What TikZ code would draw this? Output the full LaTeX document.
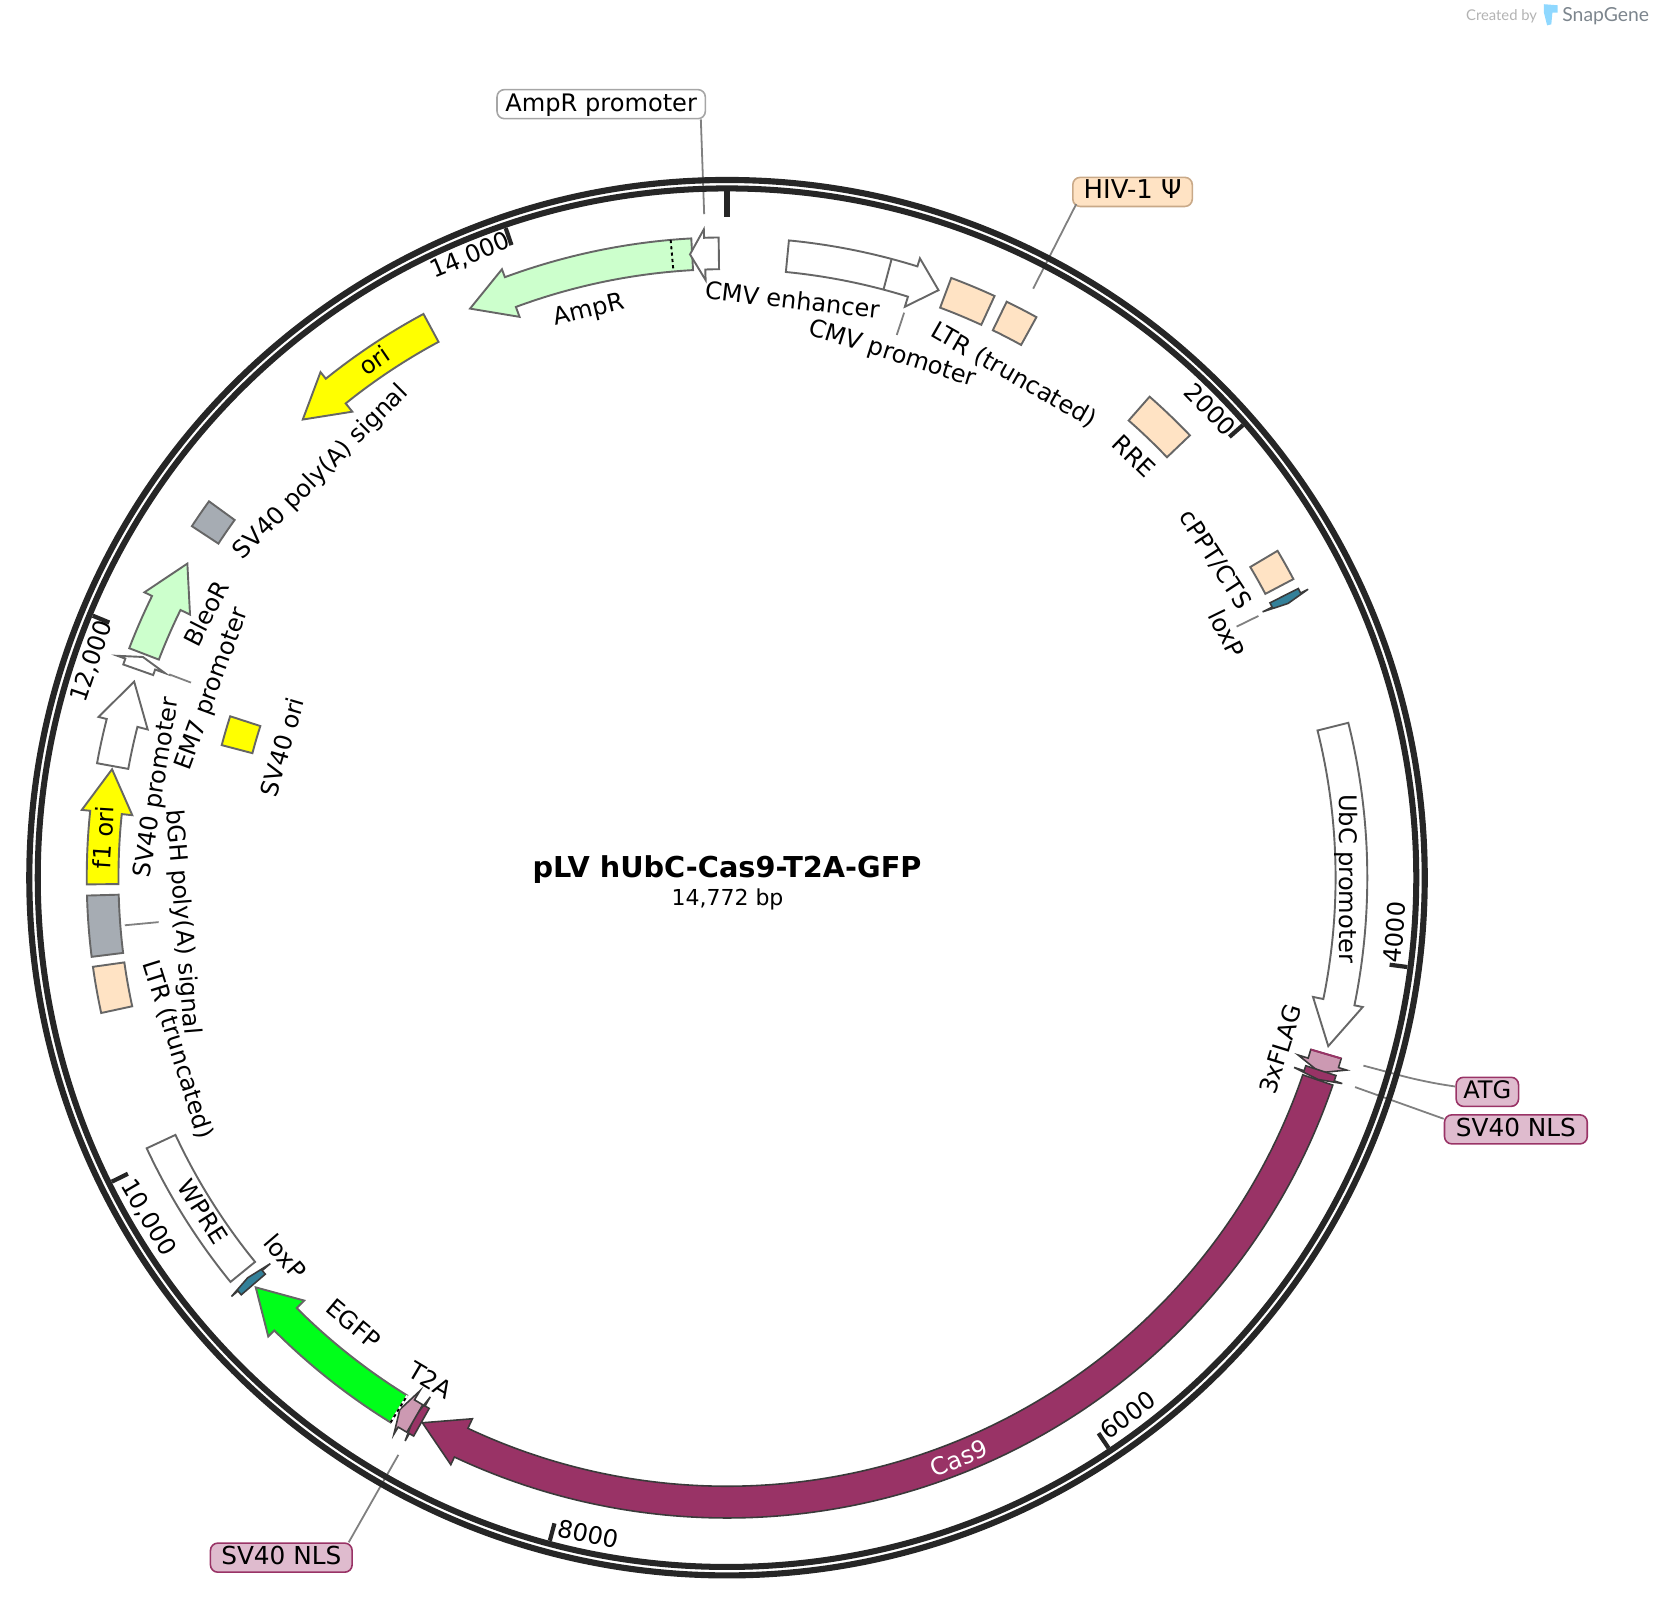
\documentclass[tikz,border=0pt]{standalone}
\usepackage{xcolor}
\usepackage{fontspec}
\setmainfont{DejaVu Sans}
\newfontfamily\logofont{Lato}
\usepackage{tikz}
\usetikzlibrary{calc}

\definecolor{ringgray}{HTML}{262626}
\definecolor{featgray}{HTML}{666666}
\definecolor{darkline}{HTML}{3A3A3A}
\definecolor{pingray}{HTML}{808080}
\definecolor{tanfill}{HTML}{FFE3C4}
\definecolor{tanedge}{HTML}{C9A988}
\definecolor{grayfill}{HTML}{A6ACB3}
\definecolor{greenfill}{HTML}{CCFFCC}
\definecolor{gfpfill}{HTML}{00FF1A}
\definecolor{orifill}{HTML}{FFFF00}
\definecolor{casfill}{HTML}{993366}
\definecolor{flagfill}{HTML}{CC99B2}
\definecolor{pinkfill}{HTML}{DFBBCE}
\definecolor{loxfill}{HTML}{338099}
\definecolor{logoblue}{HTML}{8FD8FF}
\definecolor{logogray}{HTML}{7C858D}

\newcommand{\lblfont}{\fontsize{22.8}{26}\selectfont}
\newcommand{\rOut}{605.5}
\newcommand{\rIn}{575.5}
\newcommand{\rMid}{590.5}
\newcommand{\wOut}{613.5}
\newcommand{\wIn}{565.5}
\newcommand{\cx}{687.5}
\newcommand{\cy}{830}

\tikzset{
  feat/.style={draw=featgray,line width=1.8},
  featdark/.style={draw=darkline,line width=1.5},
  ring/.style={draw=ringgray},
  pinline/.style={draw=pingray,line width=1.7},
  pinbox/.style={rounded corners=7,line width=1.5,inner xsep=6,inner ysep=0,
    minimum height=27.5,text height=17,text depth=4,font=\lblfont,text=black},
  lbl/.style={inner sep=0,text height=17,text depth=5,font=\lblfont},
  dotline/.style={draw=black,line width=1.8,dash pattern=on 3 off 3},
}

\newcommand{\genearrow}[4][feat]{%
  \draw[#1] ({90-#2}:\rOut) arc[start angle={90-#2},end angle={90-#3},radius=\rOut]
    -- ({90-#3}:\wOut) -- ({90-#4}:\rMid) -- ({90-#3}:\wIn) -- ({90-#3}:\rIn)
    arc[start angle={90-#3},end angle={90-#2},radius=\rIn] -- cycle;}
\newcommand{\genebox}[3][feat]{%
  \draw[#1] ({90-#2}:\rOut) arc[start angle={90-#2},end angle={90-#3},radius=\rOut]
    -- ({90-#3}:\rIn) arc[start angle={90-#3},end angle={90-#2},radius=\rIn] -- cycle;}
\newcommand{\cwlabel}[5][black]{%
  \pgfmathsetmacro\labang{atan2(\cy-#4,#3-\cx)}%
  \node[lbl,text=#1,rotate=\labang-90] (#2) at ({#3-\cx},{\cy-#4}) {#5};}
\newcommand{\ccwlabel}[5][black]{%
  \pgfmathsetmacro\labang{atan2(\cy-#4,#3-\cx)}%
  \node[lbl,text=#1,rotate=\labang+90] (#2) at ({#3-\cx},{\cy-#4}) {#5};}

\begin{document}
\begin{tikzpicture}[x=1pt,y=1pt]
  \useasboundingbox (0,0) rectangle (1566,1519);

  \node (title) at (687.5,697) {\fontsize{27.2}{30}\selectfont\bfseries pLV hUbC-Cas9-T2A-GFP};
  \node (length) at (688,668) {\fontsize{20.8}{24}\selectfont 14,772 bp};

  \node[pinbox,draw=pingray!70,fill=white,minimum width=197] (pinampr) at (568.5,1420.5) {AmpR promoter};
  \node[pinbox,draw=tanedge,fill=tanfill,minimum width=113] (pinhiv) at (1071,1337.5) {\fontsize{24.5}{26}\selectfont HIV-1 Ψ\hspace{19pt}};
  \node[pinbox,draw=casfill,fill=pinkfill,minimum width=59] (pinatg) at (1406.5,486.5) {ATG};
  \node[pinbox,draw=casfill,fill=pinkfill,minimum width=135] (pinnls) at (1433.5,451) {\fontsize{23.4}{26}\selectfont SV40 NLS\hspace{10pt}};
  \node[pinbox,draw=casfill,fill=pinkfill,minimum width=134] (pinnlsb) at (266,46) {\fontsize{23.4}{26}\selectfont SV40 NLS\hspace{10pt}};

  \coordinate (amprend) at (665.9,1316.4);
  \coordinate (hivend) at (977,1246);
  \coordinate (atgbend) at (1346,496.2);
  \coordinate (atgend) at (1289.3,511.3);
  \coordinate (nlsend) at (1281.4,491);
  \coordinate (nlsbend) at (376.7,143.2);
  \draw[pinline] ([xshift=-5]pinampr.south east) -- (amprend);
  \draw[pinline] ([xshift=4,yshift=3]pinhiv.south west) -- (hivend);
  \draw[pinline,rounded corners=20] ([yshift=5]pinatg.west) -- (atgbend) -- (atgend);
  \draw[pinline] ([yshift=10]pinnls.west) -- (nlsend);
  \draw[pinline] ([xshift=-4]pinnlsb.north east) -- (nlsbend);
  \draw[pinline] (855,1223.3) -- (848,1202.2);
  \draw[pinline] (1190,936.5) -- (1169.4,926.4);
  \draw[pinline] (160,881.3) -- (180.6,873.5);
  \draw[pinline] (118,644) -- (150,647);

  \begin{scope}[shift={(\cx,1519-\cy)}]
    \draw[ring,line width=5.8] (0,0) circle[radius=659.8];
    \draw[ring,line width=5.7] (0,0) circle[radius=651.8];
    \draw[ring,line width=5.9] (90:649) -- (90:625);
    \foreach \bp in {2000,4000,...,14000}
      \draw[ring,line width=4] ({90-\bp/14772*360}:649) -- ({90-\bp/14772*360}:632);

    \genearrow[feat,fill=greenfill]{356.8}{339.7}{335.7}
    \draw[dotline] ({90-354.95}:\rOut) -- ({90-354.95}:\rIn);
    \genearrow[feat,fill=white]{359.25}{357.95}{356.6}
    \genearrow[feat,fill=white]{5.55}{17.3}{19.8}
    \draw[feat] ({90-14.9}:\rOut) -- ({90-14.9}:\rIn);
    \genebox[feat,fill=tanfill]{20.5}{24.7}
    \genebox[feat,fill=tanfill]{25.9}{28.9}
    \genebox[feat,fill=tanfill]{41.3}{46.3}
    \genebox[feat,fill=tanfill]{59.3}{62.2}
    \genearrow[featdark,fill=loxfill]{63.15}{63.6}{63.95}
    \genearrow[feat,fill=white]{76}{101.5}{105.65}
    \genearrow[featdark,fill=casfill]{108.9}{205.2}{209.2}
    \genearrow[featdark,fill=flagfill]{106.4}{107.25}{108.2}
    \draw[casfill,line width=1.8] ({90-106.4}:\rOut) -- ({90-106.4}:\rIn);
    \genearrow[featdark,fill=casfill]{108}{108.5}{108.85}
    \genearrow[featdark,fill=casfill]{209.3}{209.75}{210.1}
    \genearrow[featdark,fill=flagfill]{210}{210.9}{211.6}
    \genearrow[feat,fill=gfpfill]{211.7}{225}{229}
    \draw[draw=white,line width=1.8] ({90-211.7}:\rOut) -- ({90-211.7}:\rIn);
    \draw[dotline] ({90-211.7}:\rOut) -- ({90-211.7}:\rIn);
    \genearrow[featdark,fill=loxfill]{229.35}{229.8}{230.15}
    \genebox[feat,fill=white]{230.85}{245}
    \genebox[feat,fill=tanfill]{257.8}{262}
    \genebox[feat,fill=grayfill]{262.9}{268.4}
    \genearrow[feat,fill=orifill]{269.4}{276}{280}
    \genearrow[feat,fill=white]{280.3}{284.35}{288.3}
    \genearrow[feat,fill=white]{289.45}{290}{290.7}
    \genearrow[feat,fill=greenfill]{291}{296.1}{300.2}
    \genebox[feat,fill=grayfill]{303.3}{306}
    \genearrow[feat,fill=orifill]{331.7}{321.2}{317.2}
    {\renewcommand{\rOut}{494}\renewcommand{\rIn}{464}
     \genebox[feat,fill=orifill]{284.7}{288}}

    \cwlabel{tickfourteen}{445}{243}{14,000}
    \cwlabel{ticktwo}{1143}{389}{2000}
    \ccwlabel{tickfour}{1321}{882}{4000}
    \ccwlabel{ticksix}{1068}{1340}{6000}
    \ccwlabel{tickeight}{556}{1453}{8000}
    \ccwlabel{tickten}{139}{1152}{10,000}
    \cwlabel{ticktwelve}{88}{626}{12,000}

    \cwlabel{lblampr}{557}{294}{AmpR}
    \cwlabel{lblenh}{749}{286}{CMV enhancer}
    \cwlabel{lblcmv}{844}{335}{CMV promoter}
    \cwlabel{lblltr}{958}{356}{LTR (truncated)}
    \cwlabel{lblrre}{1071}{433}{RRE}
    \cwlabel{lblcppt}{1148}{530}{cPPT/CTS}
    \cwlabel{lblloxa}{1158}{600}{loxP}
    \cwlabel{lblubc}{1273}{831}{UbC promoter}
    \ccwlabel{lblflag}{1213}{993}{3xFLAG}
    \ccwlabel[white]{lblcas}{908}{1381}{Cas9}
    \ccwlabel{lbltwoa}{406}{1307}{T2A}
    \ccwlabel{lblegfp}{333}{1254}{EGFP}
    \ccwlabel{lblloxb}{268}{1190}{loxP}
    \ccwlabel{lblwpre}{190}{1147}{WPRE}
    \ccwlabel{lblltrb}{167}{993}{LTR (truncated)}
    \ccwlabel{lblbgh}{172}{872}{bGH poly(A) signal}
    \cwlabel{lblfone}{100}{792}{f1 ori}
    \cwlabel{lblsvp}{149}{745}{SV40 promoter}
    \cwlabel{lblem}{201}{652}{EM7 promoter}
    \cwlabel{lblbleo}{197}{581}{BleoR}
    \cwlabel{lblsvo}{269}{707}{SV40 ori}
    \cwlabel{lblsva}{304}{447}{SV40 poly(A) signal}
    \cwlabel{lblori}{355}{343}{ori}
  \end{scope}

  \node[text=pingray!60,font=\logofont\fontsize{14}{16}\selectfont] (createdby) at (1420,1504) {Created by};
  \fill[logoblue] (1460,1515) -- (1473,1514) -- (1473,1507) -- (1468,1507) -- (1467,1496) -- (1463,1495) -- (1460,1507) -- cycle;
  \node[text=logogray,font=\logofont\fontsize{18.3}{20}\selectfont] (snapgene) at (1518.5,1504) {SnapGene};
\end{tikzpicture}
\end{document}
